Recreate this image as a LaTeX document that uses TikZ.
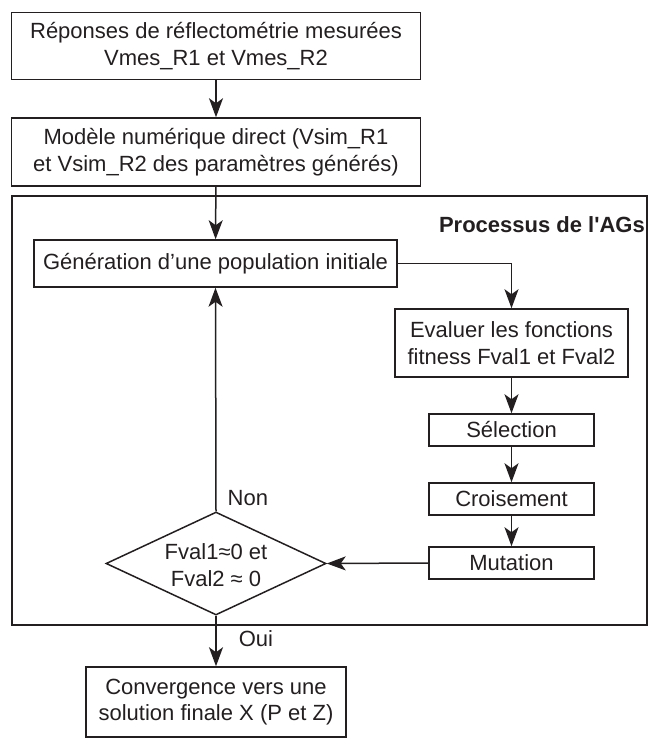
\documentclass[tikz,border=0pt]{standalone}
\usepackage{fontspec}
\setmainfont{Liberation Sans}
\usetikzlibrary{arrows.meta,shapes.geometric}
\definecolor{ink}{HTML}{231F20}
\begin{document}
\begin{tikzpicture}[x=1pt,y=-1pt,
  every node/.style={font=\fontsize{22}{26.5}\selectfont, text=ink},
  box/.style={draw=ink, line width=1.5pt, inner sep=0pt, align=center},
  conn/.style={draw=ink, line width=1.5pt},
  arr/.style={conn, -{Stealth[length=19pt,width=14pt,inset=5pt]}}]
\useasboundingbox (0,0) rectangle (648,738);
% outer frame
\node[box, minimum width=635pt, minimum height=429pt] (frame) at (329.5,410.5) {};
\node[anchor=east, inner sep=0pt, font=\fontsize{22}{26}\selectfont\bfseries] (title) at (645,225) {Processus de l\textquotesingle AGs};
% boxes
\node[box, minimum width=409pt, minimum height=67pt] (b1) at (216,46) {Réponses de réflectométrie mesurées\\Vmes\_R1 et Vmes\_R2};
\node[box, minimum width=409pt, minimum height=68pt] (b2) at (216,152) {Modèle numérique direct (Vsim\_R1\\et Vsim\_R2 des paramètres générés)};
\node[box, minimum width=363pt, minimum height=47pt] (gen) at (215.5,263.5) {Génération d’une population initiale};
\node[box, minimum width=233pt, minimum height=68pt] (eval) at (511.5,343) {Evaluer les fonctions\\fitness Fval1 et Fval2};
\node[box, minimum width=165pt, minimum height=32pt] (sel) at (511.5,430) {Sélection};
\node[box, minimum width=165pt, minimum height=32pt] (cro) at (511.5,499) {Croisement};
\node[box, minimum width=165pt, minimum height=32pt] (mut) at (511.5,563) {Mutation};
\node[box, diamond, aspect=2.136, minimum width=220pt, minimum height=103pt] (dec) at (216,563.5) {};
\node[inner sep=0pt, align=center] (dectext) at (216,565) {Fval1≈0 et\\Fval2 ≈ 0};
\node[box, minimum width=260pt, minimum height=70pt] (fin) at (216,702) {Convergence vers une\\solution finale X (P et Z)};
% connectors
\draw[arr] (b1) -- (b2);
\draw[arr] (b2) -- (gen);
\draw[arr] (gen.east) -| (eval.north);
\draw[arr] (eval) -- (sel);
\draw[arr] (sel) -- (cro);
\draw[arr] (cro) -- (mut);
\draw[arr] (mut.west) -- (dec.east);
\draw[arr] (dec.north) -- node[pos=0.08, anchor=west, inner sep=0pt, xshift=11pt, yshift=-5pt] (non) {Non} (gen.south);
\draw[arr] (dec.south) -- node[pos=0.45, anchor=west, inner sep=0pt, xshift=22pt] (oui) {Oui} (fin.north);
\end{tikzpicture}
\end{document}
